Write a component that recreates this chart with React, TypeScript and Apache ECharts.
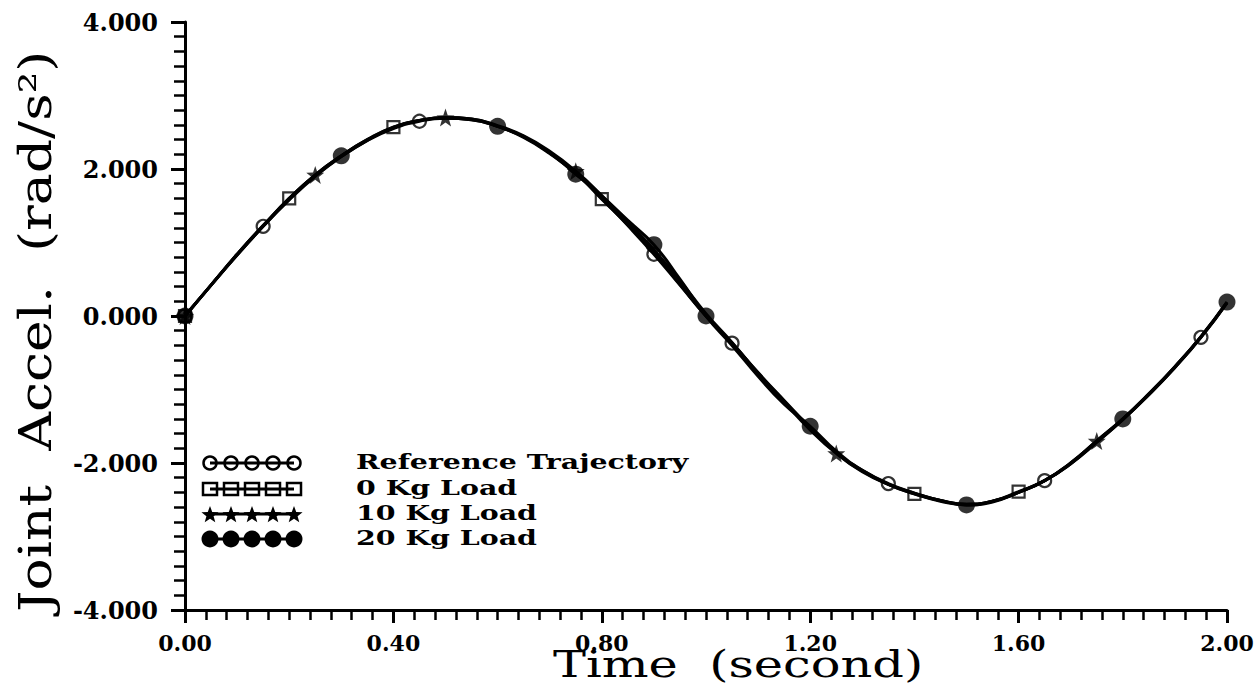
import React, { useEffect, useRef } from "react";
import * as echarts from "echarts";

const time = [0.0, 0.05, 0.1, 0.15, 0.2, 0.25, 0.3, 0.35, 0.4, 0.45, 0.5, 0.55, 0.6, 0.65, 0.7, 0.75, 0.8, 0.85, 0.9, 0.95, 1.0, 1.05, 1.1, 1.15, 1.2, 1.25, 1.3, 1.35, 1.4, 1.45, 1.5, 1.55, 1.6, 1.65, 1.7, 1.75, 1.8, 1.85, 1.9, 1.95, 2.0];

const refTraj = [0, 0.42, 0.83, 1.22, 1.58, 1.9, 2.17, 2.39, 2.55, 2.65, 2.69, 2.67, 2.58, 2.43, 2.21, 1.94, 1.6, 1.23, 0.84, 0.42, 0.0, -0.37, -0.77, -1.15, -1.52, -1.86, -2.1, -2.28, -2.41, -2.51, -2.56, -2.52, -2.4, -2.24, -2.01, -1.72, -1.41, -1.07, -0.7, -0.29, 0.18];
const load0 = [0, 0.42, 0.83, 1.22, 1.6, 1.91, 2.17, 2.39, 2.57, 2.66, 2.69, 2.67, 2.58, 2.44, 2.22, 1.95, 1.59, 1.24, 0.86, 0.43, 0.0, -0.37, -0.78, -1.16, -1.53, -1.86, -2.11, -2.29, -2.42, -2.51, -2.56, -2.52, -2.39, -2.24, -2.01, -1.71, -1.41, -1.07, -0.7, -0.29, 0.18];
const load10 = [0, 0.42, 0.84, 1.23, 1.59, 1.92, 2.18, 2.4, 2.56, 2.66, 2.7, 2.68, 2.59, 2.45, 2.24, 1.97, 1.64, 1.28, 0.9, 0.48, 0.03, -0.36, -0.78, -1.17, -1.55, -1.87, -2.12, -2.29, -2.41, -2.51, -2.57, -2.52, -2.4, -2.24, -2.0, -1.7, -1.4, -1.06, -0.69, -0.28, 0.19];
const load20 = [0, 0.42, 0.84, 1.23, 1.6, 1.92, 2.18, 2.4, 2.57, 2.66, 2.7, 2.68, 2.58, 2.44, 2.22, 1.93, 1.63, 1.3, 0.97, 0.5, 0.0, -0.4, -0.82, -1.2, -1.5, -1.84, -2.1, -2.29, -2.42, -2.52, -2.57, -2.53, -2.4, -2.24, -2.0, -1.7, -1.4, -1.06, -0.69, -0.28, 0.19];

const refMarks = [0.0, 0.15, 0.45, 0.9, 1.05, 1.35, 1.65, 1.95];
const load0Marks = [0.0, 0.2, 0.4, 0.8, 1.4, 1.6];
const load10Marks = [0.0, 0.25, 0.5, 0.75, 1.25, 1.75];
const load20Marks = [0.0, 0.3, 0.6, 0.75, 0.9, 1.0, 1.2, 1.5, 1.8, 2.0];

const legendNames = ["Reference Trajectory", "0 Kg Load", "10 Kg Load", "20 Kg Load"];
const xTicks = [0.0, 0.4, 0.8, 1.2, 1.6, 2.0];
const yTicks = [-4, -2, 0, 2, 4];
const xTitle = "Time  (second)";
const yTitle = "Joint  Accel.  (rad/s²)";

const STAR = "path://M0,-10 L2.35,-3.24 L9.51,-3.09 L3.8,1.24 L5.88,8.09 L0,4 L-5.88,8.09 L-3.8,1.24 L-9.51,-3.09 L-2.35,-3.24 Z";

function pairs(vals: number[]) {
  return time.map((t, i) => [t, vals[i]]);
}
function marks(vals: number[], at: number[]) {
  return at.map((t) => {
    const i = time.findIndex((x) => Math.abs(x - t) < 1e-6);
    return [t, vals[i]];
  });
}

function starPoints(cx: number, cy: number, r: number) {
  const pts: number[][] = [];
  for (let k = 0; k < 10; k++) {
    const a = -Math.PI / 2 + (k * Math.PI) / 5;
    const rr = k % 2 === 0 ? r : r * 0.42;
    pts.push([cx + rr * Math.cos(a), cy + rr * Math.sin(a)]);
  }
  return pts;
}

export default function App() {
  const ref = useRef<HTMLDivElement>(null);
  useEffect(() => {
    if (!ref.current) return;
    const chart = echarts.init(ref.current, undefined, { renderer: "svg" });
    const lineStyle = { color: "#000", width: 3 };
    const openStyle = { color: "rgba(255,255,255,0)", borderColor: "#000", borderWidth: 2.2 };
    const series: any[] = [];
    [refTraj, load0, load10, load20].forEach((vals, i) => {
      series.push({
        name: legendNames[i],
        type: "line",
        data: pairs(vals),
        symbol: "none",
        smooth: true,
        lineStyle,
        z: 2,
      });
    });
    series.push({ type: "scatter", data: marks(refTraj, refMarks), symbol: "circle", symbolSize: 13, itemStyle: openStyle, z: 5 });
    series.push({ type: "scatter", data: marks(load0, load0Marks), symbol: "rect", symbolSize: 12, itemStyle: openStyle, z: 5 });
    series.push({ type: "scatter", data: marks(load10, load10Marks), symbol: STAR, symbolSize: 18, itemStyle: { color: "#000" }, z: 6 });
    series.push({ type: "scatter", data: marks(load20, load20Marks), symbol: "circle", symbolSize: 17, itemStyle: { color: "#000" }, z: 7 });

    const graphic: any[] = [];
    const rowsY = [463, 489, 514, 539];
    const xs = [210, 231, 252, 273, 294];
    rowsY.forEach((y, r) => {
      graphic.push({ type: "line", shape: { x1: xs[0], y1: y, x2: xs[4], y2: y }, style: { stroke: "#000", lineWidth: 3 } });
      xs.forEach((x) => {
        if (r === 0) graphic.push({ type: "circle", shape: { cx: x, cy: y, r: 6.5 }, style: { fill: "transparent", stroke: "#000", lineWidth: 2.5 } });
        if (r === 1) graphic.push({ type: "rect", shape: { x: x - 7, y: y - 6, width: 14, height: 12 }, style: { fill: "transparent", stroke: "#000", lineWidth: 2.5 } });
        if (r === 2) graphic.push({ type: "polygon", shape: { points: starPoints(x, y + 1, 9) }, style: { fill: "#000" } });
        if (r === 3) graphic.push({ type: "circle", shape: { cx: x, cy: y, r: 8.5 }, style: { fill: "#000" } });
      });
      graphic.push({
        type: "text",
        x: 356,
        y: y - 11,
        scaleX: 1.42,
        style: { text: legendNames[r], fill: "#000", font: "bold 20px 'DejaVu Serif'", verticalAlign: "top" },
      });
    });
    graphic.push({
      type: "text",
      x: 553,
      y: 645,
      scaleX: 1.3,
      style: { text: xTitle, fill: "#000", font: "38px 'DejaVu Serif'", verticalAlign: "top" },
    });
    graphic.push({
      type: "text",
      x: 14,
      y: 612,
      rotation: Math.PI / 2,
      scaleX: 1.22,
      style: { text: yTitle, fill: "#000", font: "44px 'DejaVu Serif'", verticalAlign: "top", align: "left" },
    });

    chart.setOption({
      animation: false,
      backgroundColor: "#fff",
      grid: { left: 185, right: 33, top: 22, bottom: 84, containLabel: false, outerBoundsMode: "none" },
      xAxis: {
        type: "value",
        min: 0,
        max: 2,
        interval: 0.4,
        axisLine: { onZero: false, lineStyle: { color: "#000", width: 3 } },
        axisTick: { inside: false, length: 13, lineStyle: { color: "#000", width: 3 } },
        minorTick: { show: true, splitNumber: 10, length: 10, lineStyle: { color: "#000", width: 2.5 } },
        splitLine: { show: false },
        axisLabel: {
          margin: 22,
          fontFamily: "DejaVu Serif",
          fontWeight: "bold",
          fontSize: 22,
          color: "#000",
          formatter: (v: number) => (xTicks.some((t) => Math.abs(t - v) < 1e-6) ? v.toFixed(2) : ""),
        },
      },
      yAxis: {
        type: "value",
        min: -4,
        max: 4,
        interval: 2,
        axisLine: { show: true, lineStyle: { color: "#000", width: 3 } },
        axisTick: { inside: false, length: 14, lineStyle: { color: "#000", width: 3 } },
        minorTick: { show: true, splitNumber: 10, length: 11, lineStyle: { color: "#000", width: 2.5 } },
        splitLine: { show: false },
        axisLabel: {
          margin: 27,
          fontFamily: "DejaVu Serif",
          fontWeight: "bold",
          fontSize: 24,
          color: "#000",
          formatter: (v: number) => (yTicks.some((t) => Math.abs(t - v) < 1e-6) ? v.toFixed(3) : ""),
        },
      },
      series,
      graphic,
    });
    return () => chart.dispose();
  }, []);
  return <div ref={ref} style={{ position: "fixed", left: 0, top: 0, width: 1260, height: 694 }} />;
}
